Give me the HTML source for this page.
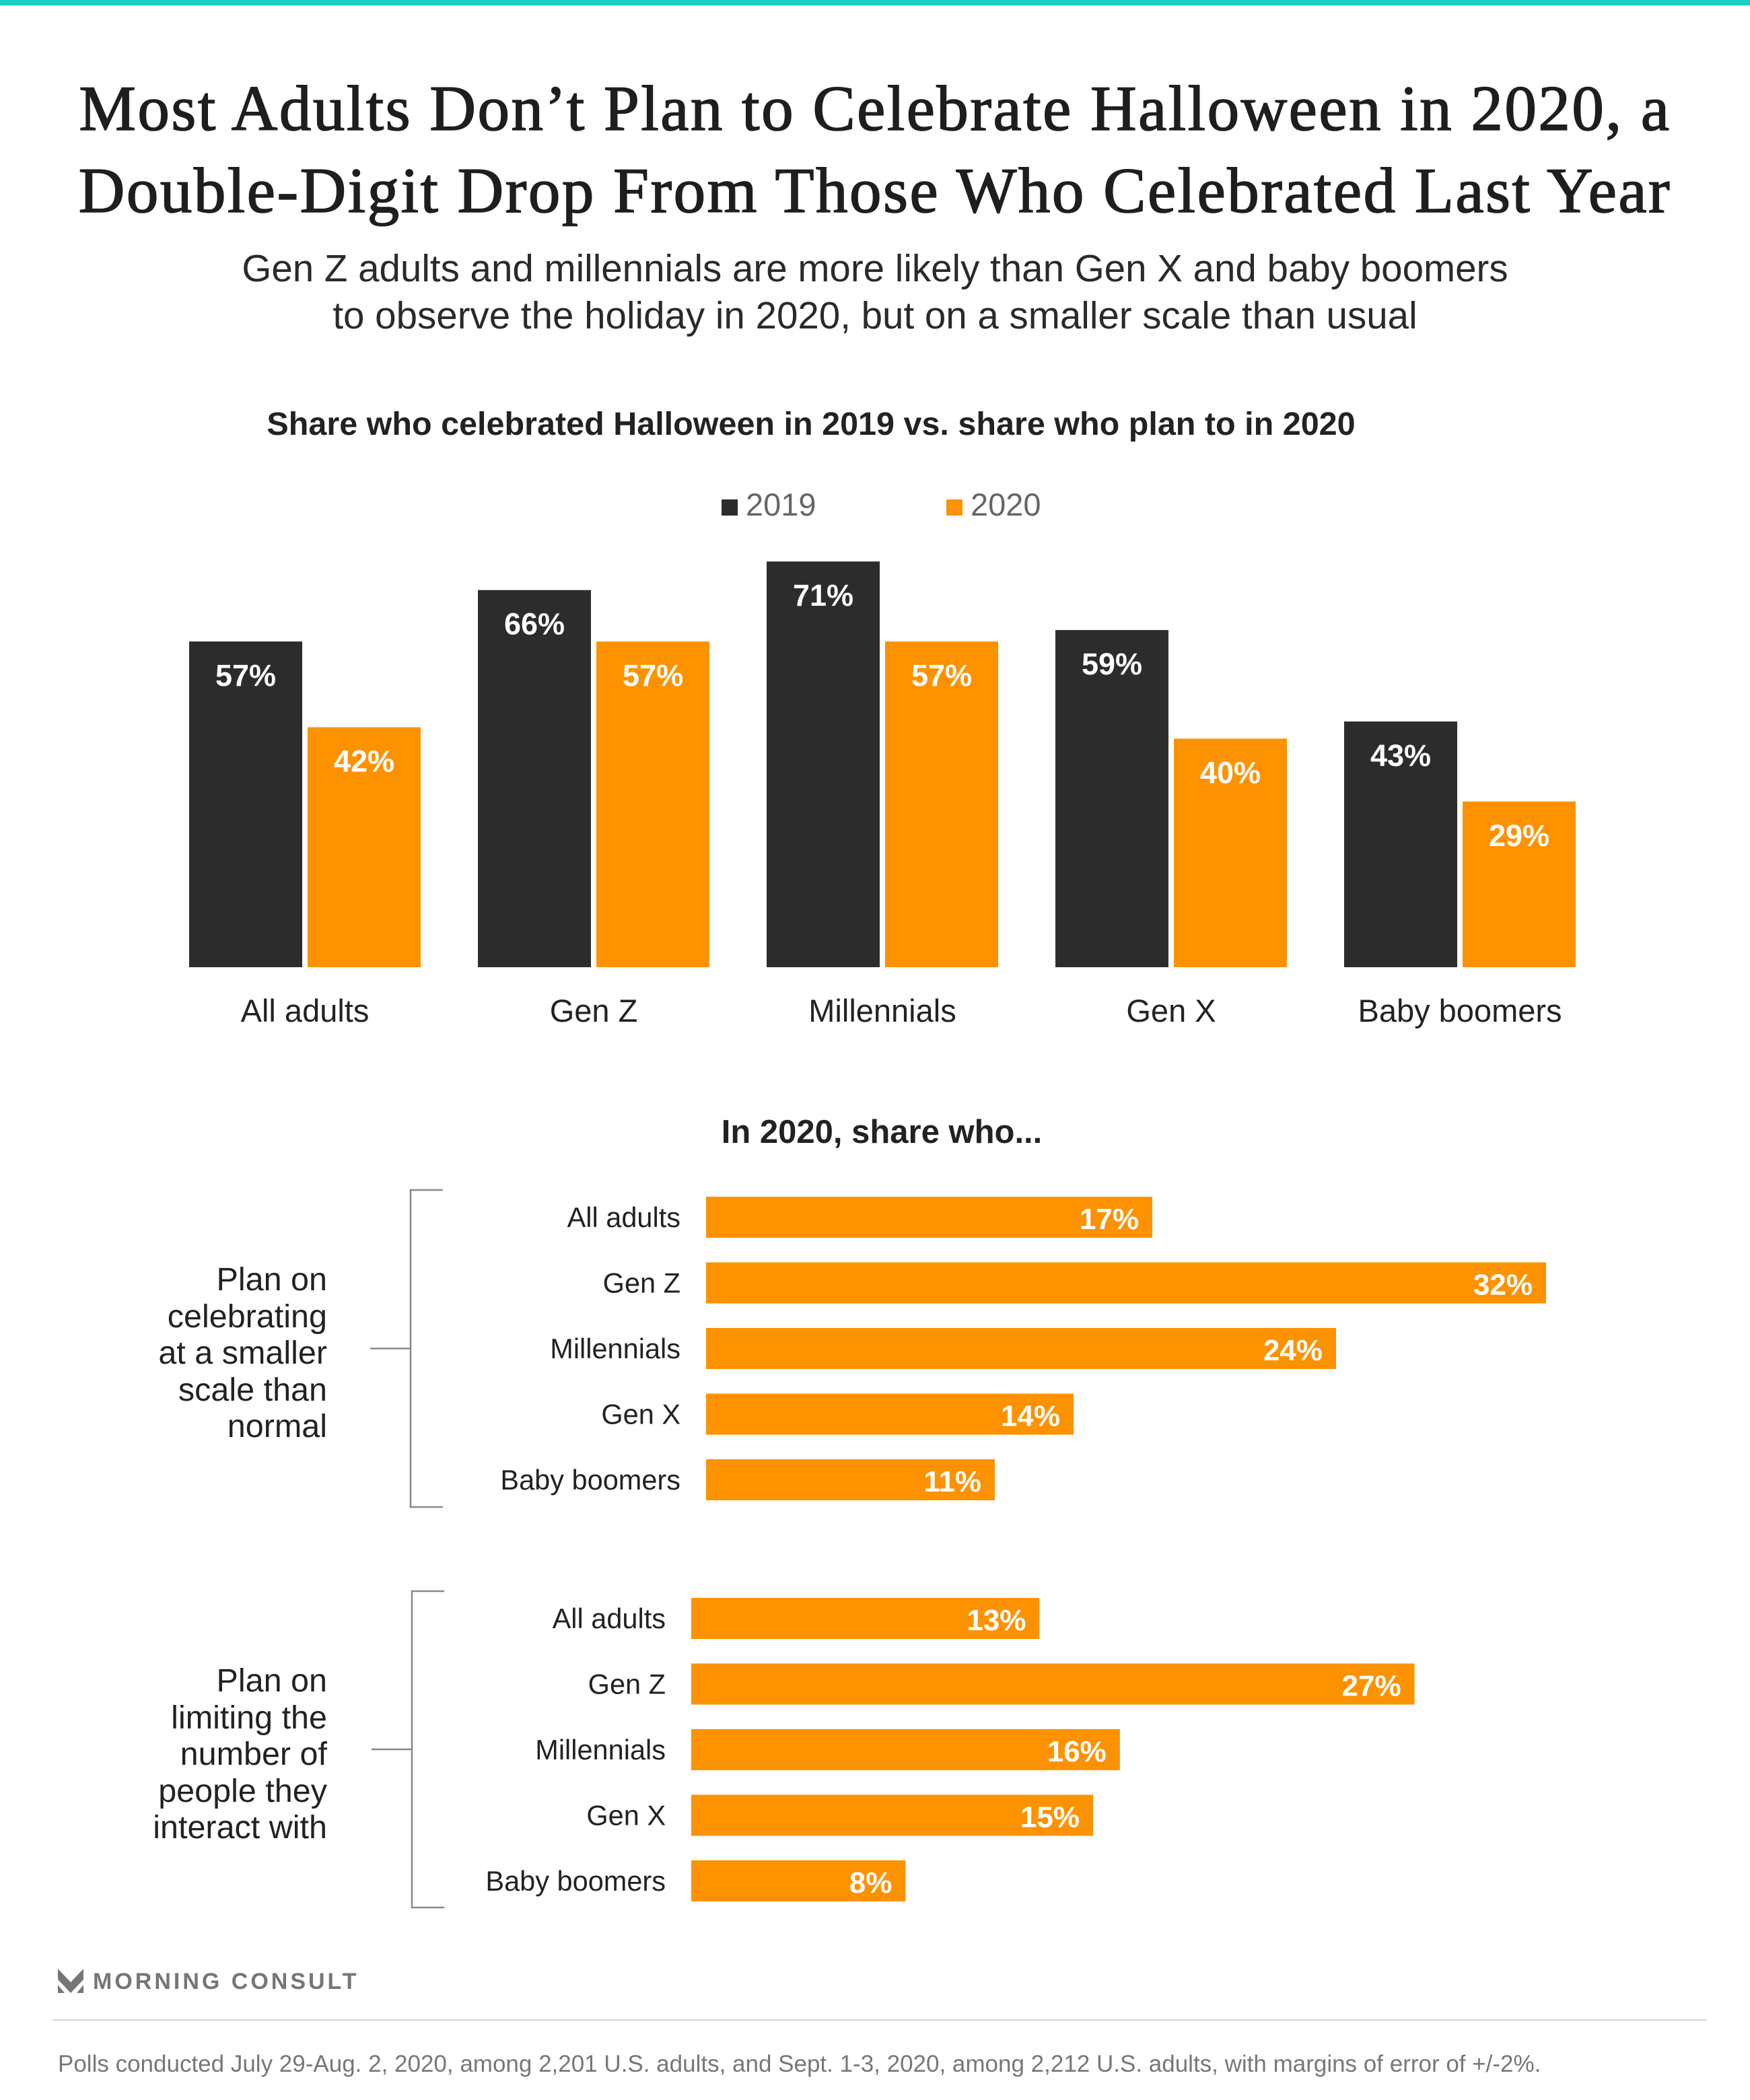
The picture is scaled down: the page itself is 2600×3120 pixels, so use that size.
<!DOCTYPE html>
<html><head><meta charset="utf-8"><style>
body{margin:0;width:2600px;height:3120px;background:#fff;position:relative;overflow:hidden;font-family:"Liberation Sans",sans-serif}
.a{position:absolute}
</style></head><body>
<div class="a" style="left:0;top:0;width:2600px;height:8px;background:#19cfc2"></div>
<div class="a" style="left:0;top:100px;width:2600px;text-align:center;font-family:'Liberation Serif',serif;font-size:95px;letter-spacing:2.5px;-webkit-text-stroke:1.6px #1e1e1e;line-height:122px;color:#1e1e1e;white-space:nowrap">Most Adults Don’t Plan to Celebrate Halloween in 2020, a<br>Double-Digit Drop From Those Who Celebrated Last Year</div>
<div class="a" style="left:0;top:364px;width:2600px;text-align:center;font-size:56.5px;line-height:70px;color:#2a2a2a">Gen Z adults and millennials are more likely than Gen X and baby boomers<br>to observe the holiday in 2020, but on a smaller scale than usual</div>
<div class="a" style="left:0;top:602px;width:2410px;text-align:center;font-size:48.5px;font-weight:bold;color:#222">Share who celebrated Halloween in 2019 vs. share who plan to in 2020</div>
<div class="a" style="left:1072px;top:722px;font-size:47px;color:#666"><span style="display:inline-block;width:24px;height:24px;background:#2c2c2c;margin-right:12px"></span>2019</div>
<div class="a" style="left:1406px;top:722px;font-size:47px;color:#666"><span style="display:inline-block;width:24px;height:24px;background:#fd9200;margin-right:12px"></span>2020</div>
<svg class="a" style="left:0;top:0" width="2600" height="3120" id="svg"></svg>
<div class="a" style="left:0;top:1654px;width:2620px;text-align:center;font-size:49px;font-weight:bold;color:#222">In 2020, share who...</div>
<div class="a" style="left:60px;top:1874px;width:426px;text-align:right;font-size:48.5px;line-height:54.5px;color:#222">Plan on<br>celebrating<br>at a smaller<br>scale than<br>normal</div>
<div class="a" style="left:60px;top:2470px;width:426px;text-align:right;font-size:48.5px;line-height:54.5px;color:#222">Plan on<br>limiting the<br>number of<br>people they<br>interact with</div>
<div class="a" style="left:86px;top:2925px;height:38px">
<svg width="38" height="38" style="position:absolute;left:0;top:0"><polygon points="0,0 19,20 38,0 38,16 19,36 0,16" fill="#767676"/><polygon points="0,24 10,36 0,36" fill="#767676"/><polygon points="38,24 28,36 38,36" fill="#767676"/></svg>
<span style="position:absolute;left:52px;top:0;font-size:34px;font-weight:bold;letter-spacing:4px;color:#767676;white-space:nowrap">MORNING CONSULT</span></div>
<div class="a" style="left:78px;top:3000px;width:2458px;height:2px;background:#d5d5d5"></div>
<div class="a" style="left:86px;top:3047px;font-size:35px;color:#777;white-space:nowrap">Polls conducted July 29-Aug. 2, 2020, among 2,201 U.S. adults, and Sept. 1-3, 2020, among 2,212 U.S. adults, with margins of error of +/-2%.</div>
<script>
const colCategories=["All adults","Gen Z","Millennials","Gen X","Baby boomers"];
const val2019=[57,66,71,59,43];
const val2020=[42,57,57,40,29];
const hbarCategories=["All adults","Gen Z","Millennials","Gen X","Baby boomers"];
const smallerScale=[17,32,24,14,11];
const limitPeople=[13,27,16,15,8];
const NS="http://www.w3.org/2000/svg";
const svg=document.getElementById('svg');
function mk(t,a,txt){const e=document.createElementNS(NS,t);for(const k in a)e.setAttribute(k,a[k]);if(txt!==undefined)e.textContent=txt;svg.appendChild(e);return e;}
const base=1437,perPct=8.49;
const yC=v=>base-v*perPct;
const xG=i=>281+i*429;
colCategories.forEach((c,i)=>{
 [[val2019,"#2c2c2c",0],[val2020,"#fd9200",176]].forEach(([arr,col,off])=>{
  const x=xG(i)+off,v=arr[i];
  const r=mk('rect',{x:x,y:yC(v),width:168,height:v*perPct,fill:col});
  
  
  const t=mk('text',{x:x+84,y:yC(v)+66,'text-anchor':'middle','font-size':45,'font-weight':'bold',fill:'#fff','font-family':'Liberation Sans'},v+'%');
  
  
 });
 const l=mk('text',{x:xG(i)+172,y:1518,'text-anchor':'middle','font-size':47,fill:'#222','font-family':'Liberation Sans'},c);
 
 
});
function hpanel(vals,x0,scale,top,brTop,brBot,brX){
 const br=mk('path',{d:`M${brX+48},${brTop} H${brX} V${brBot} H${brX+48} M${brX-60},${(brTop+brBot)/2} H${brX}`,stroke:'#888',fill:'none','stroke-width':2.5});
 
 
 vals.forEach((v,i)=>{
  const y=top+i*97.5;
  const r=mk('rect',{x:x0,y:y,width:v*scale,height:61,fill:'#fd9200'});
  
  
  const t=mk('text',{x:x0+v*scale-20,y:y+48,'text-anchor':'end','font-size':44,'font-weight':'bold',fill:'#fff','font-family':'Liberation Sans'},v+'%');
  
  
  const l=mk('text',{x:x0-38,y:y+45,'text-anchor':'end','font-size':41.5,fill:'#222','font-family':'Liberation Sans'},hbarCategories[i]);
  
  
 });
}
hpanel(smallerScale,1049,39,1778,1768,2239,610);
hpanel(limitPeople,1027,39.8,2374,2364,2834,612);
</script>
</body></html>
